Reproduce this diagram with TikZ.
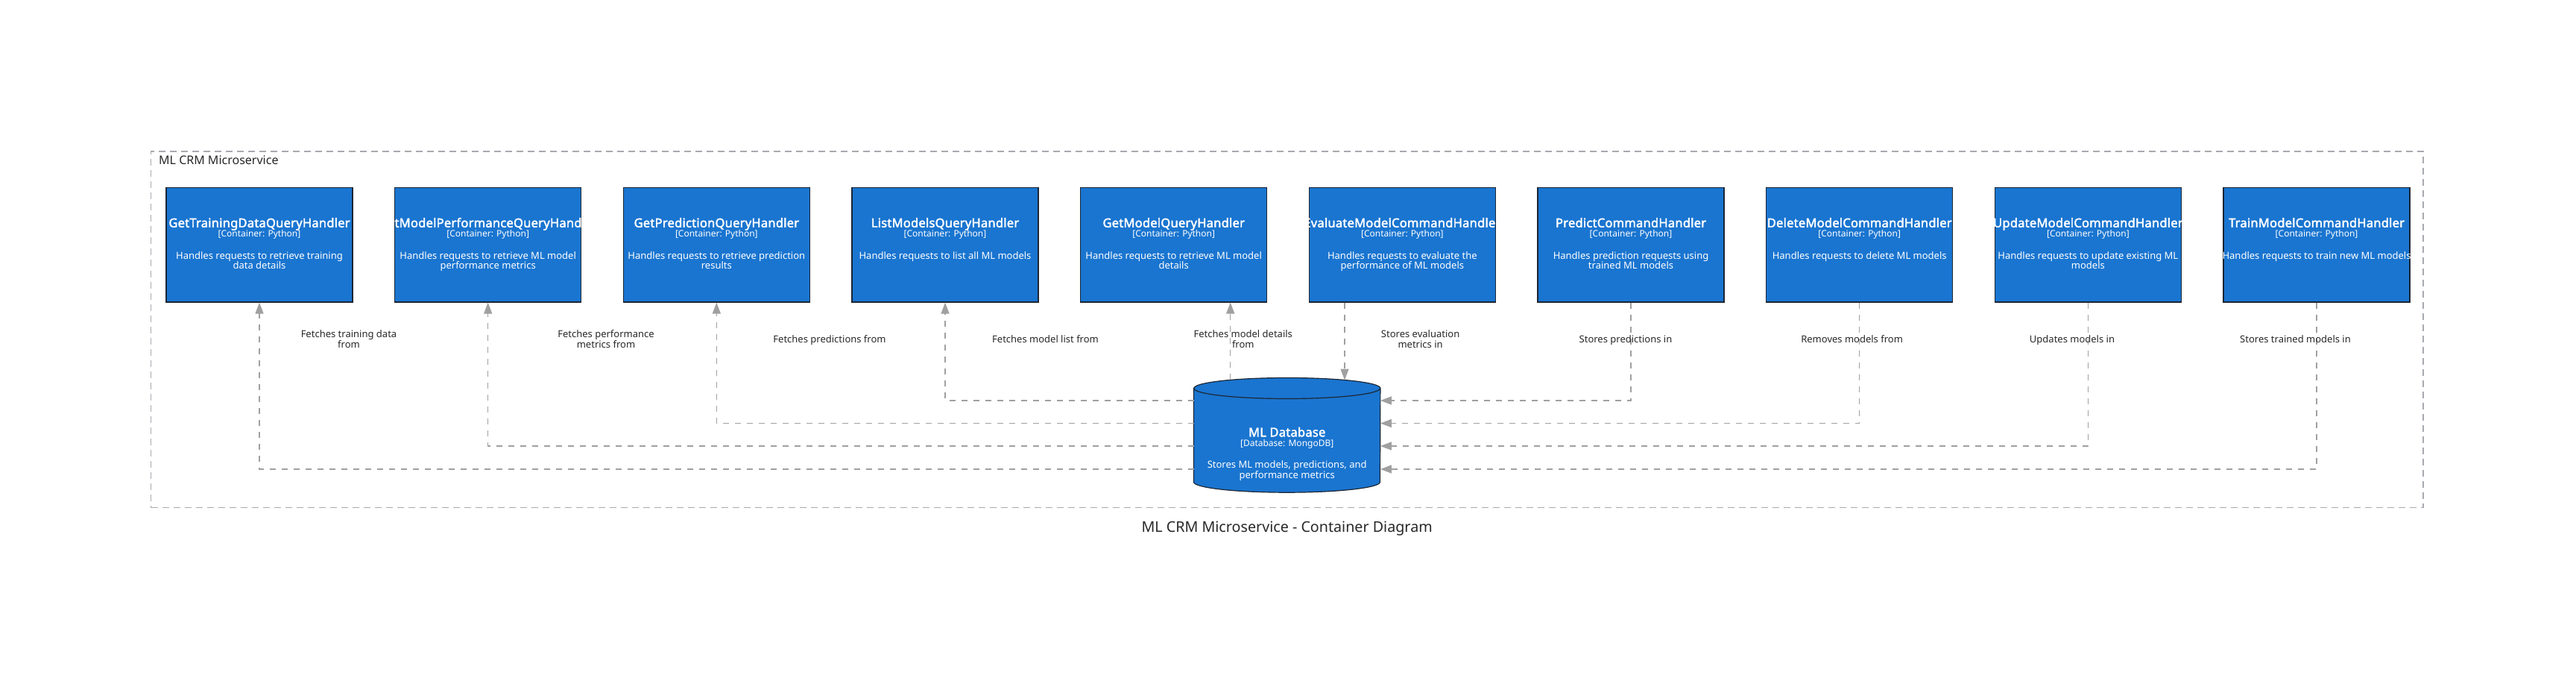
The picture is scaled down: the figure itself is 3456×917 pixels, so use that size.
\documentclass[tikz,border=0pt]{standalone}
\usepackage{fontspec}
\setmainfont{Noto Sans}[AutoFakeBold=2.2]
\newfontfamily\ttlfont{Noto Sans}[FakeBold=2.4, LetterSpace=1.5]
\usetikzlibrary{arrows.meta}
\definecolor{boxfill}{RGB}{26,117,208}
\definecolor{boxline}{RGB}{28,38,52}
\definecolor{conncol}{RGB}{160,160,160}
\definecolor{bndcol}{RGB}{168,170,176}
\definecolor{txtcol}{RGB}{40,40,40}
\tikzset{
  ctr/.style={draw=boxline, line width=1.2pt, fill=boxfill, minimum width=250pt, minimum height=153.3pt, inner sep=0pt},
  ttl/.style={anchor=base, text=white, inner sep=0pt, font=\ttlfont\fontsize{16.5}{16.5}\selectfont},
  tech/.style={anchor=base, text=white, inner sep=0pt, font=\fontsize{12}{12}\selectfont},
  dsc/.style={anchor=base, text=white, inner sep=0pt, align=center, font=\fontsize{13}{13.4}\selectfont},
  conn/.style={draw=conncol, line width=1.5pt, dash pattern=on 8pt off 8pt, -{Triangle[length=15pt,width=11pt]}},
  lbl/.style={anchor=base, text=txtcol, inner sep=0pt, align=center, font=\fontsize{13}{14.3}\selectfont},
  bnd/.style={draw=bndcol, line width=1.5pt, dash pattern=on 9pt off 6pt, minimum width=3048.5pt, minimum height=477.7pt, inner sep=0pt},
}
\begin{document}
\begin{tikzpicture}[x=1pt,y=-1pt]
\fill[white] (0,0) rectangle (3456,917);
\useasboundingbox (0,0) rectangle (3456,917);
% system boundary
\node[bnd] (sys) at (1726.75,441.85) {};
\node[anchor=base west, inner sep=0pt, text=txtcol, font=\fontsize{16}{16}\selectfont] (syslbl) at (213,220.7) {ML CRM Microservice};
\node[anchor=base, inner sep=0pt, text=txtcol, font=\fontsize{19.7}{19.7}\selectfont] (title) at (1726.6,713.3) {ML CRM Microservice - Container Diagram};
% containers (last field: baseline of the last description line)
\foreach \i/\ti/\de/\dy in {
 1/GetTrainingDataQueryHandler/{Handles requests to retrieve training\\data details}/360.7,
 2/GetModelPerformanceQueryHandler/{Handles requests to retrieve ML model\\performance metrics}/360.7,
 3/GetPredictionQueryHandler/{Handles requests to retrieve prediction\\results}/360.7,
 4/ListModelsQueryHandler/{Handles requests to list all ML models}/347.3,
 5/GetModelQueryHandler/{Handles requests to retrieve ML model\\details}/360.7,
 6/EvaluateModelCommandHandler/{Handles requests to evaluate the\\performance of ML models}/360.7,
 7/PredictCommandHandler/{Handles prediction requests using\\trained ML models}/360.7,
 8/DeleteModelCommandHandler/{Handles requests to delete ML models}/347.3,
 9/UpdateModelCommandHandler/{Handles requests to update existing ML\\models}/360.7,
 10/TrainModelCommandHandler/{Handles requests to train new ML models}/347.3}{
  \pgfmathsetmacro\cx{348+306.67*(\i-1)}
  \node[ctr] (b\i) at (\cx,328.35) {};
  \begin{scope}
    \clip (b\i.south west) rectangle (b\i.north east);
    \node[ttl] (b\i-t) at (\cx,304.7) {\ti};
    \node[tech] (b\i-k) at (\cx,317) {[Container: Python]};
    \node[dsc] (b\i-d) at (\cx,\dy) {\de};
  \end{scope}
}
% database
\node[minimum width=250pt, minimum height=153.3pt, inner sep=0pt] (db) at (1726.7,583.35) {};
\path[draw=boxline, line width=1.2pt, fill=boxfill] ([yshift=-14pt]db.north west) -- ([yshift=14pt]db.south west) arc[start angle=180,end angle=360,x radius=125pt,y radius=14pt] -- ([yshift=-14pt]db.north east) arc[start angle=0,end angle=180,x radius=125pt,y radius=14pt] -- cycle;
\draw[boxline, line width=1.2pt] ([yshift=-14pt]db.north west) arc[start angle=180,end angle=360,x radius=125pt,y radius=14pt];
\node[ttl] (db-t) at (1726.7,585.3) {ML Database};
\node[tech] (db-k) at (1726.7,598.3) {[Database: MongoDB]};
\node[dsc] (db-d) at (1726.7,641.3) {Stores ML models, predictions, and\\performance metrics};
% helper coordinates
\coordinate (h1) at (0,537);
\coordinate (h2) at (0,567.5);
\coordinate (h3) at (0,598);
\coordinate (h4) at (0,629);
\coordinate (d5) at (1650.7,509.4);
\coordinate (d6) at (1804,509.5);
% connectors
\draw[conn] (db.west |- h4) -| (b1.south);
\draw[conn] (db.west |- h3) -| (b2.south);
\draw[conn] (db.west |- h2) -| (b3.south);
\draw[conn] (db.west |- h1) -| (b4.south);
\draw[conn] (d5) -- (d5 |- b5.south);
\draw[conn] (d6 |- b6.south) -- (d6);
\draw[conn] (b7.south) |- (db.east |- h1);
\draw[conn] (b8.south) |- (db.east |- h2);
\draw[conn] (b9.south) |- (db.east |- h3);
\draw[conn] (b10.south) |- (db.east |- h4);
% connector labels (base = last line)
\node[lbl] (l1) at (468,466.7) {Fetches training data\\from};
\node[lbl] (l2) at (813,466.7) {Fetches performance\\metrics from};
\node[lbl] (l3) at (1113,459.4) {Fetches predictions from};
\node[lbl] (l4) at (1402.5,459.4) {Fetches model list from};
\node[lbl] (l5) at (1667.8,466.7) {Fetches model details\\from};
\node[lbl] (l6) at (1905.6,466.7) {Stores evaluation\\metrics in};
\node[lbl] (l7) at (2181,459.4) {Stores predictions in};
\node[lbl] (l8) at (2484.6,459.4) {Removes models from};
\node[lbl] (l9) at (2780,459.4) {Updates models in};
\node[lbl] (l10) at (3079.5,459.4) {Stores trained models in};
\end{tikzpicture}
\end{document}
